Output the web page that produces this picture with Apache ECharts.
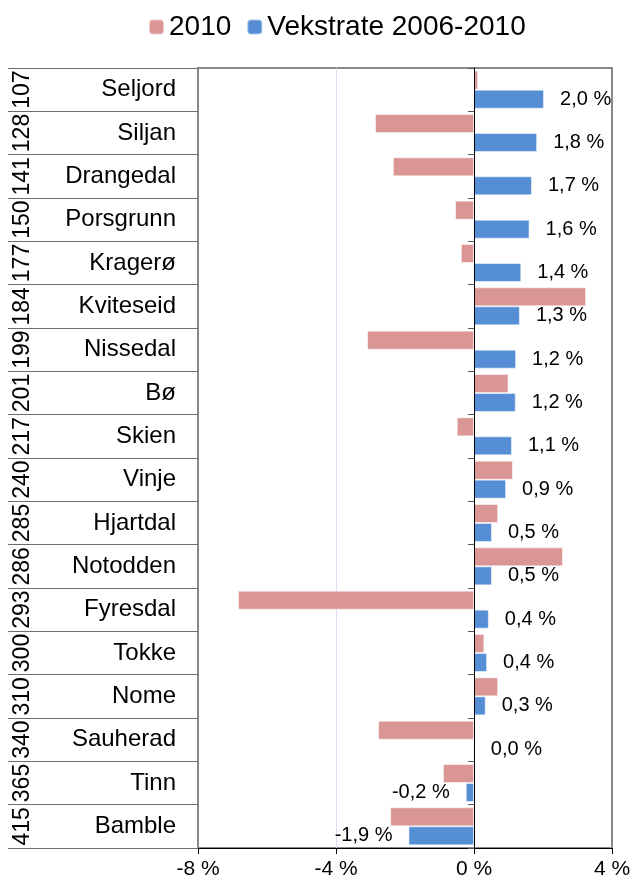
<!DOCTYPE html>
<html>
<head>
<meta charset="utf-8">
<script src="https://cdn.jsdelivr.net/npm/echarts@6/dist/echarts.min.js"></script>
<style>
html,body{margin:0;padding:0;background:#fff;}
#chart{width:630px;height:881px;}
</style>
</head>
<body>
<div id="chart"></div>
<script>
const names = ['Seljord','Siljan','Drangedal','Porsgrunn','Kragerø','Kviteseid','Nissedal','Bø','Skien','Vinje','Hjartdal','Notodden','Fyresdal','Tokke','Nome','Sauherad','Tinn','Bamble'];
const codes = ['107','128','141','150','177','184','199','201','217','240','285','286','293','300','310','340','365','415'];
const values2010 = [0.12,-2.87,-2.35,-0.55,-0.38,3.25,-3.1,1.0,-0.5,1.13,0.7,2.58,-6.84,0.3,0.7,-2.78,-0.9,-2.43];
const growth = [2.03,1.83,1.68,1.61,1.37,1.33,1.22,1.21,1.10,0.93,0.52,0.52,0.43,0.38,0.34,0.02,-0.24,-1.90];
const xTicks = {min: -8, max: 4, interval: 4};

const FONT = 'Liberation Sans, Arial, sans-serif';
const chart = echarts.init(document.getElementById('chart'));
const fmt = v => v.toFixed(1).replace('.', ',') + ' %';

chart.setOption({
  animation: false,
  textStyle: {fontFamily: FONT},
  legend: {
    left: 143, top: 8,
    itemWidth: 15, itemHeight: 15, itemGap: 15,
    textStyle: {fontSize: 28, color: '#000', fontFamily: FONT},
    data: ['2010', 'Vekstrate 2006-2010']
  },
  grid: {
    left: 198, right: 18, top: 68, bottom: 33,
    outerBoundsMode: 'none', containLabel: false,
    show: true, borderColor: '#898989', borderWidth: 2
  },
  xAxis: {
    type: 'value', min: xTicks.min, max: xTicks.max, interval: xTicks.interval,
    axisLine: {show: true, lineStyle: {color: '#000', width: 1}},
    axisTick: {show: true, length: 6, lineStyle: {color: '#000'}},
    axisLabel: {fontSize: 21, color: '#000', margin: 11, formatter: v => v + ' %', fontFamily: FONT, hideOverlap: false},
    splitLine: {show: true, lineStyle: {color: ['#898989', '#dcdcf2', '#000', '#898989'], width: 1}}
  },
  yAxis: [
    {
      type: 'category', data: names, inverse: true, position: 'left',
      axisLine: {show: true, onZero: false, lineStyle: {color: '#898989', width: 2}},
      axisTick: {show: true, length: 190, lineStyle: {color: '#6e6e6e', width: 1}},
      axisLabel: {fontSize: 24, color: '#000', margin: 22, interval: 0, fontFamily: FONT}
    },
    {
      type: 'category', data: codes, inverse: true, position: 'left',
      axisLine: {show: false, onZero: false},
      axisTick: {show: false},
      axisLabel: {fontSize: 23, color: '#000', rotate: 90, margin: 164, interval: 0, hideOverlap: false,
                  fontFamily: FONT}
    },
    {
      type: 'category', data: names, inverse: true, position: 'left', z: 10,
      axisLine: {show: true, onZero: true, lineStyle: {color: '#000', width: 1}},
      axisTick: {show: true, length: 6, lineStyle: {color: '#555'}},
      axisLabel: {show: false}
    }
  ],
  series: [
    {
      name: '2010', type: 'bar', yAxisIndex: 0, barWidth: 19, barGap: '0%',
      itemStyle: {color: '#d99694', borderColor: 'rgba(255,255,255,0.5)', borderWidth: 1},
      data: values2010
    },
    {
      name: 'Vekstrate 2006-2010', type: 'bar', yAxisIndex: 0, barWidth: 19, barGap: '0%',
      itemStyle: {color: '#558ed5', borderColor: 'rgba(255,255,255,0.5)', borderWidth: 1},
      label: {show: true, distance: 16, fontSize: 20, color: '#000', fontFamily: FONT,
              formatter: p => fmt(p.value)},
      data: growth.map(v => ({value: v, label: {position: v < 0 ? 'left' : 'right'}}))
    }
  ]
});
</script>
</body>
</html>
